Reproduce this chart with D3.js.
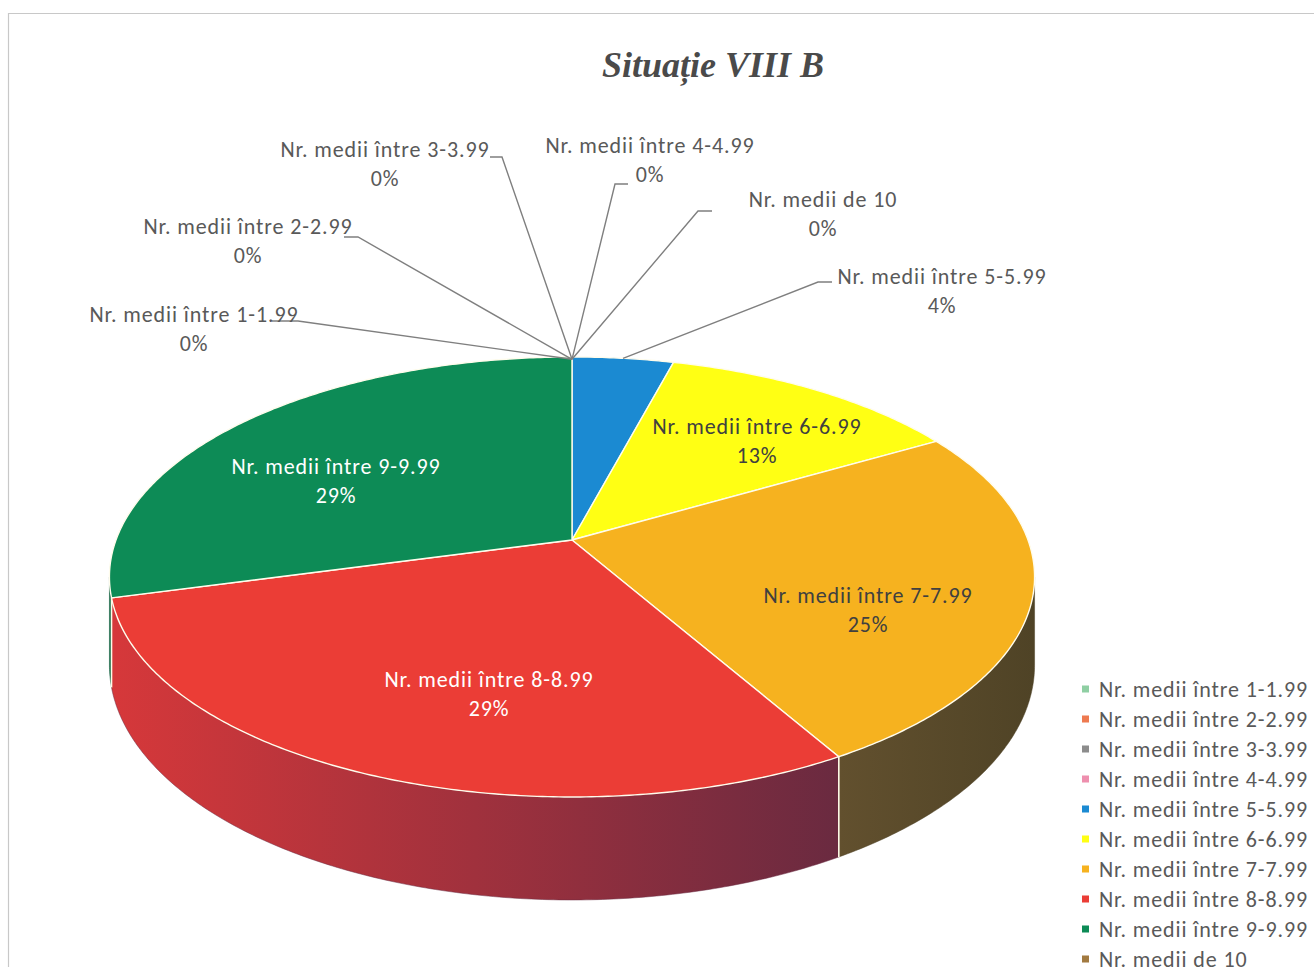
<!DOCTYPE html>
<html>
<head>
<meta charset="utf-8">
<script src="https://cdn.jsdelivr.net/npm/d3@7"></script>
<style>
  html, body { margin: 0; padding: 0; background: #fff; }
  svg { display: block; }
</style>
</head>
<body>
<svg id="chart" width="1314" height="967"></svg>
<script>
// ---------------- data ----------------
const title = "Situație VIII B";
const categories = [
  "Nr. medii între 1-1.99",
  "Nr. medii între 2-2.99",
  "Nr. medii între 3-3.99",
  "Nr. medii între 4-4.99",
  "Nr. medii între 5-5.99",
  "Nr. medii între 6-6.99",
  "Nr. medii între 7-7.99",
  "Nr. medii între 8-8.99",
  "Nr. medii între 9-9.99",
  "Nr. medii de 10"
];
const values = [0, 0, 0, 0, 1, 3, 6, 7, 7, 0];

// ---------------- styles ----------------
const topColors  = ["#8fcfa3", "#ee7a50", "#8c8c8c", "#ee8fae", "#1b8ad2", "#ffff14", "#f6b21f", "#eb3d36", "#0d8b56", "#a27a40"];
const sideColors = [
  ["#7ab08a", "#5e8a6c"], ["#c8603e", "#8e4430"], ["#6e6e6e", "#555"], ["#c67690", "#935a6c"],
  ["#146aa0", "#0f5580"], ["#c8c810", "#9a9a0c"], ["#62502e", "#4f4326"], ["#d6383a", "#6a2a40"],
  ["#0a6a42", "#085434"], ["#7e5e32", "#5e4626"]
];
const labelColors = ["#595959","#595959","#595959","#595959","#595959","#404040","#404040","#ffffff","#ffffff","#595959"];
// label anchors (centre x, y of first line) and leader elbows
const labelLayout = [
  { x: 194, y: 314, elbow: [[298, 321], [272, 321]] },
  { x: 248, y: 226, elbow: [[358, 237], [344, 237]] },
  { x: 385, y: 149, elbow: [[502, 157], [490, 157]] },
  { x: 650, y: 145, elbow: [[615, 184], [628, 184]] },
  { x: 942, y: 276, elbow: [[818, 282], [832, 282]] },
  { x: 757, y: 426, elbow: null },
  { x: 868, y: 595, elbow: null },
  { x: 489, y: 679, elbow: null },
  { x: 336, y: 466, elbow: null },
  { x: 823, y: 199, elbow: [[698, 211], [712, 211]] }
];

const FONT = "Carlito, Lato, 'Open Sans', sans-serif";

// ---------------- projection of the 3D pie ----------------
const cx = 572, cy = 540;
const A = 456, B = 213.8, K = 0.168, H = 85.7;
function proj(theta, h, r = 1) {
  const u = r * Math.sin(theta), v = r * Math.cos(theta);
  const w = 1 + K * v;
  return [cx + A * u / w, cy - B * v / w + H * h / w];
}
const thetaR = Math.acos(-K);               // rightmost silhouette
const thetaL = 2 * Math.PI - Math.acos(-K); // leftmost silhouette

const svg = d3.select("#chart");

// chart border
svg.append("path")
  .attr("d", "M8.5,967 L8.5,13.5 L1314,13.5")
  .attr("fill", "none").attr("stroke", "#c8c8c8").attr("stroke-width", 1.2);

// title
svg.append("text")
  .attr("x", 713).attr("y", 77)
  .attr("text-anchor", "middle")
  .attr("font-family", "'Liberation Serif', 'Times New Roman', serif")
  .attr("font-weight", "bold").attr("font-style", "italic")
  .attr("font-size", 36).attr("fill", "#4a4a4a")
  .text(title);

const pie = d3.pie().sort(null).startAngle(0).endAngle(2 * Math.PI)(values);
const total = d3.sum(values);
const pct = v => Math.round(v / total * 100) + "%";

function arcPoints(a0, a1, h) {
  const n = Math.max(2, Math.ceil((a1 - a0) / 0.01));
  return d3.range(n + 1).map(i => proj(a0 + (a1 - a0) * i / n, h));
}
const line = d3.line();

const defs = svg.append("defs");

// side walls
const gWalls = svg.append("g");
pie.forEach((d, i) => {
  if (d.endAngle - d.startAngle <= 0) return;
  const a0 = Math.max(d.startAngle, thetaR), a1 = Math.min(d.endAngle, thetaL);
  if (a1 <= a0) return;
  const gid = "side" + i;
  const gr = defs.append("linearGradient").attr("id", gid).attr("x1", 0).attr("x2", 1).attr("y1", 0).attr("y2", 0);
  gr.append("stop").attr("offset", 0).attr("stop-color", sideColors[i][0]);
  gr.append("stop").attr("offset", 1).attr("stop-color", sideColors[i][1]);
  const pts = arcPoints(a0, a1, 0).concat(arcPoints(a0, a1, 1).reverse());
  gWalls.append("path").attr("d", line(pts) + "Z")
    .attr("fill", `url(#${gid})`)
    .attr("stroke", sideColors[i][1]).attr("stroke-width", 0.5);
});
// white edges on the wall at slice boundaries
pie.forEach(d => {
  const a = d.endAngle;
  if (d.endAngle - d.startAngle <= 0) return;
  if (a > thetaR && a < thetaL) {
    gWalls.append("path").attr("d", line([proj(a, 0), proj(a, 1)]))
      .attr("stroke", "#fffbe8").attr("stroke-width", 1.6).attr("fill", "none");
  }
});

// top faces
const gTop = svg.append("g");
pie.forEach((d, i) => {
  if (d.endAngle - d.startAngle <= 0) return;
  const pts = [[cx, cy]].concat(arcPoints(d.startAngle, d.endAngle, 0));
  gTop.append("path").attr("d", line(pts) + "Z")
    .attr("fill", topColors[i])
    .attr("stroke", "#fffcec").attr("stroke-width", 1.4).attr("stroke-linejoin", "round");
});

// leader lines
const gLead = svg.append("g");
pie.forEach((d, i) => {
  const L = labelLayout[i];
  if (!L.elbow) return;
  const mid = (d.startAngle + d.endAngle) / 2;
  const p = proj(mid, 0, d.endAngle - d.startAngle > 0 ? 1 : 0.985);
  gLead.append("path")
    .attr("d", line([p, L.elbow[0], L.elbow[1]]))
    .attr("fill", "none").attr("stroke", "#7f7f7f").attr("stroke-width", 1.4);
});

// data labels
const gLab = svg.append("g").attr("font-family", FONT).attr("font-size", 22)
  .attr("letter-spacing", "0.9px").attr("text-anchor", "middle");
pie.forEach((d, i) => {
  const L = labelLayout[i];
  const t = gLab.append("text").attr("fill", labelColors[i]);
  t.append("tspan").attr("x", L.x).attr("y", L.y).attr("dy", "0.35em").text(categories[i]);
  t.append("tspan").attr("x", L.x).attr("y", L.y + 29).attr("dy", "0.35em").text(pct(values[i]));
});

// legend
const gLeg = svg.append("g").attr("font-family", FONT).attr("font-size", 22).attr("letter-spacing", "0.9px");
categories.forEach((c, i) => {
  const y = 689 + i * 30;
  gLeg.append("rect").attr("x", 1082).attr("y", y - 3.5).attr("width", 7).attr("height", 7).attr("fill", topColors[i]);
  gLeg.append("text").attr("x", 1099).attr("y", y).attr("dy", "0.35em").attr("fill", "#595959").text(c);
});
</script>
</body>
</html>
